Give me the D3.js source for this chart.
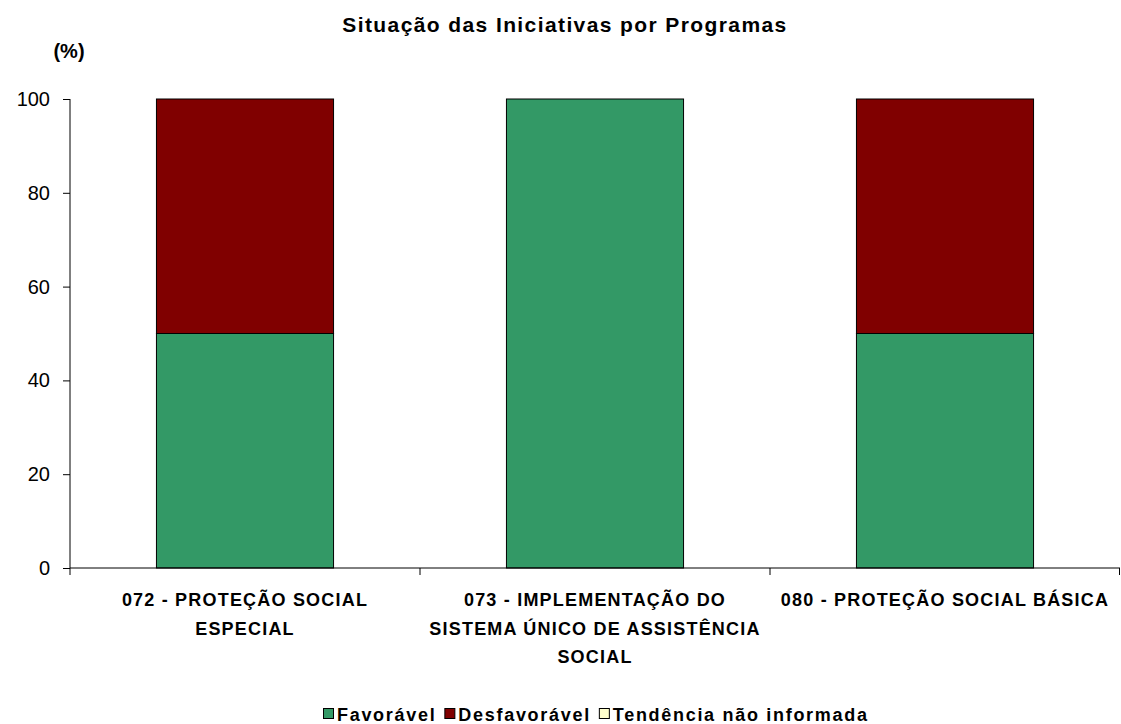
<!DOCTYPE html>
<html>
<head>
<meta charset="utf-8">
<script src="https://cdn.jsdelivr.net/npm/d3@7"></script>
<style>
  body { margin: 0; background: #fff; }
  text { font-family: "Liberation Sans", Arial, sans-serif; }
</style>
</head>
<body>
<div id="chart"></div>
<script>
const programas = [
  ["072 - PROTEÇÃO SOCIAL", "ESPECIAL"],
  ["073 - IMPLEMENTAÇÃO DO", "SISTEMA ÚNICO DE ASSISTÊNCIA", "SOCIAL"],
  ["080 - PROTEÇÃO SOCIAL BÁSICA"]
];
const favoravel = [50, 100, 50];
const desfavoravel = [50, 0, 50];
const naoInformada = [0, 0, 0];
const series = ["Favorável", "Desfavorável", "Tendência não informada"];
const cores = ["#339966", "#800000", "#FFFFCC"];
const yTicks = [0, 20, 40, 60, 80, 100];

var w = 1121, h = 724;
var margin = { top: 99, bottom: 156, left: 70, right: 1 };
var width = w - margin.left - margin.right;
var height = h - margin.top - margin.bottom;

var svg = d3.select("#chart").append("svg")
  .attr("width", w)
  .attr("height", h);

var chart = svg.append("g")
  .attr("transform", "translate(" + margin.left + "," + margin.top + ")");

var keys = programas.map((d, i) => i);
var x = d3.scaleBand().domain(keys).range([0, width]).paddingInner(0).paddingOuter(0);
var y = d3.scaleLinear().domain([0, 100]).range([height, 0]);

var data = keys.map(i => ({ i: i, s0: favoravel[i], s1: desfavoravel[i], s2: naoInformada[i] }));
var stack = d3.stack().keys(["s0", "s1", "s2"])(data);

///////////////////////////// Bars
var barW = x.bandwidth() * 0.506;
stack.forEach((layer, k) => {
  chart.selectAll(".bar" + k)
    .data(layer.filter(d => d[1] - d[0] > 0))
    .enter().append("rect")
    .attr("x", d => x(d.data.i) + (x.bandwidth() - barW) / 2)
    .attr("y", d => y(d[1]))
    .attr("width", barW)
    .attr("height", d => y(d[0]) - y(d[1]))
    .attr("fill", cores[k])
    .attr("stroke", "#000")
    .attr("stroke-width", 1);
});

///////////////////////////// Axes
var yAxis = chart.append("g")
  .call(d3.axisLeft(y).tickValues(yTicks).tickSize(7).tickPadding(13));
yAxis.select(".domain").attr("stroke", "#000").attr("d", "M0," + y(100) + "V" + y(0));
yAxis.selectAll("line").attr("stroke", "#000");
yAxis.selectAll("text")
  .attr("font-size", 20)
  .attr("font-family", "'Liberation Sans', Arial, sans-serif")
  .attr("fill", "#000");

chart.append("line")
  .attr("x1", 0).attr("x2", width)
  .attr("y1", height).attr("y2", height)
  .attr("stroke", "#000");
keys.concat([keys.length]).forEach(i => {
  var xx = i < keys.length ? x(i) : width - 0.5;
  chart.append("line")
    .attr("x1", xx).attr("x2", xx)
    .attr("y1", height).attr("y2", height + 7)
    .attr("stroke", "#000");
});

programas.forEach((lines, i) => {
  var t = chart.append("text")
    .attr("text-anchor", "middle")
    .attr("font-weight", "bold")
    .attr("font-size", 18)
    .attr("letter-spacing", 1.2)
    .attr("fill", "#000")
    .attr("transform", "translate(" + (x(i) + x.bandwidth() / 2) + "," + (height + 38) + ")");
  lines.forEach((l, j) => {
    t.append("tspan").attr("x", 0).attr("y", j * 28.5).text(l);
  });
});

///////////////////////////// Titles
svg.append("text")
  .attr("x", 565).attr("y", 32)
  .attr("text-anchor", "middle")
  .attr("font-weight", "bold")
  .attr("font-size", 21)
  .attr("letter-spacing", 1.4)
  .text("Situação das Iniciativas por Programas");

svg.append("text")
  .attr("x", 69).attr("y", 58)
  .attr("text-anchor", "middle")
  .attr("font-weight", "bold")
  .attr("font-size", 20)
  .text("(%)");

///////////////////////////// Legend
var legend = svg.append("g").attr("transform", "translate(323,714)");
var lx = 0;
series.forEach((s, k) => {
  var g = legend.append("g").attr("transform", "translate(" + lx + ",0)");
  g.append("rect")
    .attr("x", 0.5).attr("y", -5.5)
    .attr("width", 10).attr("height", 10)
    .attr("fill", cores[k]).attr("stroke", "#000");
  var t = g.append("text")
    .attr("x", 14).attr("y", 7)
    .attr("font-weight", "bold")
    .attr("font-size", 18)
    .attr("letter-spacing", 1.7)
    .text(s);
  lx += 14 + t.node().getComputedTextLength() + 8;
});
</script>
</body>
</html>
